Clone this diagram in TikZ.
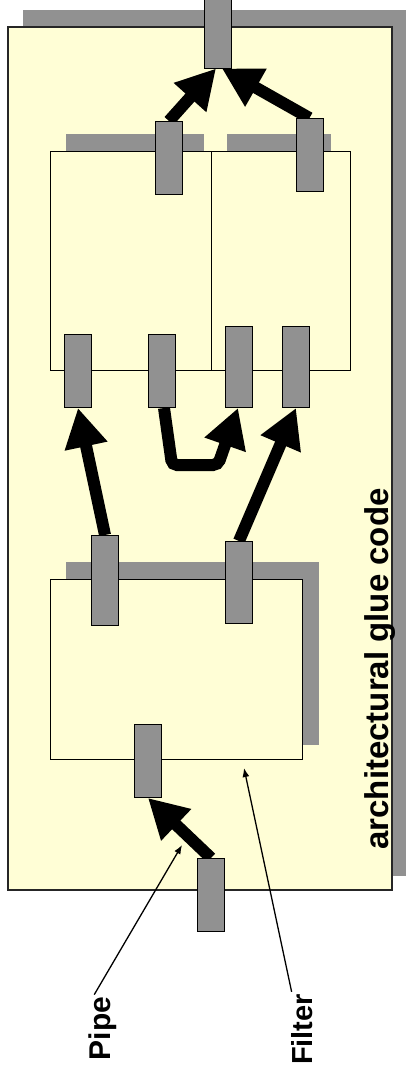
\documentclass[tikz,border=0pt]{standalone}
\usepackage{fontspec}
\setmainfont{Liberation Sans}
\usetikzlibrary{arrows.meta}
\pgfdeclarelayer{back}
\pgfdeclarelayer{mid}
\pgfsetlayers{back,mid,main}
\definecolor{paper}{RGB}{255,254,214}
\definecolor{shade}{RGB}{145,145,145}
\begin{document}
\begin{tikzpicture}[x=1pt,y=-1pt,
  port/.style={draw=black, line width=1pt, fill=shade, minimum width=27pt, minimum height=73pt, inner sep=0pt},
  comp/.style={draw=black, line width=0.9pt, fill=paper},
  shadowbox/.style={fill=shade},
  pipeline/.style={line width=12pt, -{Triangle[length=39pt,width=41pt]}},
  lead/.style={line width=1.3pt, -{Latex[length=9pt,width=7pt]}},
  lbl/.style={font=\bfseries\fontsize{30}{36}\selectfont, rotate=90, anchor=base, inner sep=2pt}]
\useasboundingbox (0,0) rectangle (405,1077);

% outer glue box with shadow
\begin{pgfonlayer}{back}
\fill[shadowbox] (23,10) rectangle (406,876);
\draw[draw=black!85, line width=1.3pt, fill=paper] (8,27) rectangle (392,890);
% upper filters
\fill[shadowbox] (66,134) rectangle (204,151);
\fill[shadowbox] (227,134) rectangle (331,151);
\draw[comp] (50,151) rectangle (211,370);
\draw[comp] (211,151) rectangle (350,370);
% lower filter
\fill[shadowbox] (66,562) rectangle (319,745);
\draw[comp] (50,579) rectangle (302,759);
\end{pgfonlayer}

% ports
\node[port, minimum height=78pt] (t) at (217.5,29) {};
\node[port] (ul) at (169,158) {};
\node[port] (ur) at (309.5,155) {};
\node[port] (p1) at (78,371) {};
\node[port] (p2) at (162,371) {};
\node[port, minimum height=81pt] (p3) at (239,367) {};
\node[port, minimum height=81pt] (p4) at (296,367) {};
\node[port, minimum height=90pt] (lfl) at (105,580.5) {};
\node[port, minimum height=82pt] (lfr) at (239,582.5) {};
\node[port] (lfb) at (148,761) {};
\node[port] (ext) at (211,895) {};

% pipes
\begin{pgfonlayer}{mid}
\draw[pipeline] (ext.north) -- (lfb.south);
\draw[pipeline] (lfl.north) -- (p1.south);
\draw[pipeline] (lfr.north) -- (p4.south);
\draw[pipeline, rounded corners=5pt] ([xshift=2pt]p2.south) -- (172,465) -- (218,465) -- ([xshift=-1pt]p3.south);
\draw[pipeline] (ul.north) -- ([xshift=-1.5pt]t.south);
\draw[pipeline] (ur.north) -- ([xshift=4.5pt]t.south);
\end{pgfonlayer}

% labels
\node[lbl, font=\bfseries\fontsize{33}{40}\selectfont] (glue) at (388,669) {architectural glue code};
\node[lbl] (pipe) at (110,1028.5) {Pipe};
\node[lbl, font=\bfseries\fontsize{29}{35}\selectfont] (filter) at (312,1029.5) {Filter};
\coordinate (pipetip) at (182,845);
\coordinate (filtertip) at (244,768);
\draw[lead] ([xshift=-8pt]pipe.east) -- (pipetip);
\draw[lead] ([xshift=-10pt]filter.east) -- (filtertip);
\end{tikzpicture}
\end{document}
